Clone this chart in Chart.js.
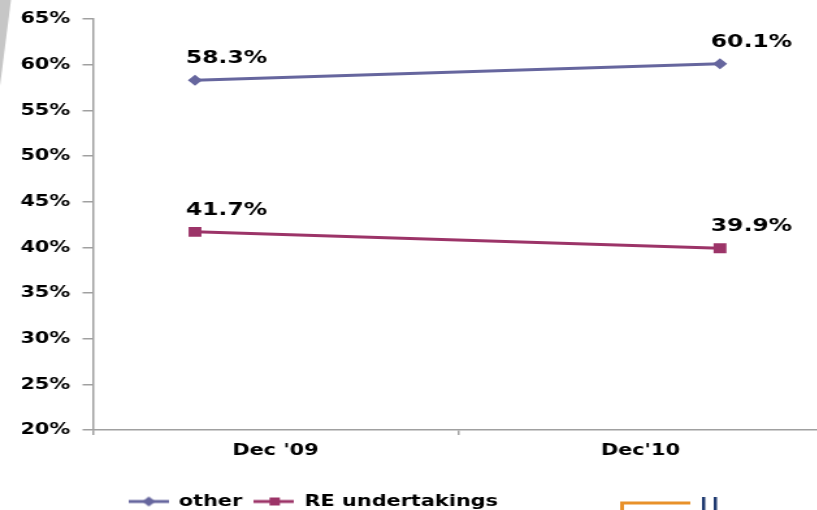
<!DOCTYPE html>
<html>
<head>
<meta charset="utf-8">
<script src="https://cdn.jsdelivr.net/npm/chart.js@4"></script>
<style>
  html, body { margin: 0; padding: 0; background: #fff; overflow: hidden; width: 817px; height: 510px; }
  #wrap { position: absolute; left: 0; top: 0; width: 640px; height: 510px; transform: scaleX(1.3); transform-origin: 0 0; }
  canvas { display: block; }
</style>
</head>
<body>
<div id="wrap"><canvas id="c" width="640" height="510"></canvas></div>
<script>
// ---- data ----
const categories = ["Dec '09", "Dec'10"];
const otherValues = [58.3, 60.1];
const reValues = [41.7, 39.9];
const seriesNames = ["other", "RE undertakings"];
const yTicksMin = 20, yTicksMax = 65, yTicksStep = 5;

// ---- styles ----
const FONT = "'DejaVu Sans', Verdana, sans-serif";
const C_OTHER = '#66669E';
const C_RE = '#9C3468';
const AXIS = '#a0a0a0';

function legendIcon(color, style) {
  const cv = document.createElement('canvas');
  cv.width = 31; cv.height = 14;
  const g = cv.getContext('2d');
  g.strokeStyle = color; g.lineWidth = 3;
  g.beginPath(); g.moveTo(0, 7); g.lineTo(31, 7); g.stroke();
  g.fillStyle = color;
  g.beginPath();
  if (style === 'diamond') {
    g.moveTo(16, 2); g.lineTo(21, 7); g.lineTo(16, 12); g.lineTo(11, 7); g.closePath();
  } else {
    g.rect(12, 3, 8, 8);
  }
  g.fill();
  return cv;
}

const toPts = arr => arr.map((v, i) => ({ x: i, y: v }));

const decoPlugin = {
  id: 'deco',
  beforeDraw(chart) {
    const g = chart.ctx;
    g.save();
    g.fillStyle = '#c6c6c6';
    g.beginPath(); g.moveTo(0, 0); g.lineTo(11 / 1.3, 0); g.lineTo(0, 86); g.closePath(); g.fill();
    // partial logo at bottom right
    g.strokeStyle = '#E8912A'; g.lineWidth = 3;
    g.beginPath(); g.moveTo(478.5, 512); g.lineTo(478.5, 503); g.lineTo(531, 503); g.stroke();
    g.fillStyle = '#1F3A70';
    g.fillRect(540, 497, 2.5, 14);
    g.fillRect(549, 497, 2.5, 14);
    g.restore();
  },
  afterLayout(chart) {
    const lg = chart.legend;
    if (lg) { lg.left = 89.5; lg.top = 484.5; }
  }
};

const labelPlugin = {
  id: 'vlabels',
  afterDatasetsDraw(chart) {
    const g = chart.ctx;
    g.save();
    g.font = 'bold 18px ' + FONT;
    g.fillStyle = '#000';
    g.textAlign = 'left';
    g.textBaseline = 'middle';
    chart.data.datasets.forEach((ds, di) => {
      const meta = chart.getDatasetMeta(di);
      meta.data.forEach((pt, i) => {
        g.fillText(ds.data[i].y.toFixed(1) + '%', pt.x - 7, pt.y - 22);
      });
    });
    g.restore();
  }
};

new Chart(document.getElementById('c'), {
  type: 'line',
  data: {
    labels: categories,
    datasets: [
      {
        label: seriesNames[0], data: toPts(otherValues), xAxisID: 'xv',
        borderColor: C_OTHER, backgroundColor: C_OTHER, borderWidth: 3,
        pointStyle: 'rectRot', pointRadius: 5.5, pointBorderWidth: 0, fill: false, tension: 0
      },
      {
        label: seriesNames[1], data: toPts(reValues), xAxisID: 'xv',
        borderColor: C_RE, backgroundColor: C_RE, borderWidth: 3,
        pointStyle: 'rect', pointRadius: 7, pointBorderWidth: 0, fill: false, tension: 0
      }
    ]
  },
  options: {
    responsive: false,
    animation: false,
    events: [],
    layout: { padding: { top: 15, left: 0, right: 7, bottom: 0 } },
    plugins: {
      tooltip: { enabled: false },
      legend: {
        position: 'bottom',
        align: 'start',
        labels: {
          usePointStyle: true,
          pointStyleWidth: 31,
          padding: 9,
          color: '#000',
          font: { family: FONT, size: 16, weight: 'bold' },
          generateLabels(chart) {
            return chart.data.datasets.map((ds, i) => ({
              text: ds.label,
              pointStyle: legendIcon(ds.borderColor, i === 0 ? 'diamond' : 'square'),
              fillStyle: ds.borderColor, strokeStyle: ds.borderColor, lineWidth: 0,
              fontColor: '#000', hidden: false, datasetIndex: i
            }));
          }
        }
      }
    },
    scales: {
      x: {
        type: 'category',
        labels: categories,
        offset: true,
        position: 'bottom',
        grid: { display: true, drawOnChartArea: false, tickLength: 5, color: AXIS, lineWidth: 1.5, offset: true },
        border: { display: true, color: AXIS, width: 1.5 },
        ticks: { color: '#000', padding: 6, font: { family: FONT, size: 16, weight: 'bold' }, maxRotation: 0 },
        afterFit(s) { const lh = s.chart.legend ? s.chart.legend.height : 34; s.height = 510 - 430 - lh; }
      },
      xv: {
        type: 'linear', display: false, position: 'bottom',
        min: -0.1944, max: 1.196
      },
      y: {
        min: yTicksMin, max: yTicksMax,
        ticks: {
          stepSize: yTicksStep, color: '#000', padding: 9.5,
          font: { family: FONT, size: 16, weight: 'bold' },
          callback: v => v + '%'
        },
        grid: { drawOnChartArea: false, tickLength: 8, color: AXIS, lineWidth: 1.5 },
        border: { display: true, color: AXIS, width: 1.5 },
        afterFit(s) { s.width = 71.5; }
      }
    }
  },
  plugins: [decoPlugin, labelPlugin]
});
</script>
</body>
</html>
